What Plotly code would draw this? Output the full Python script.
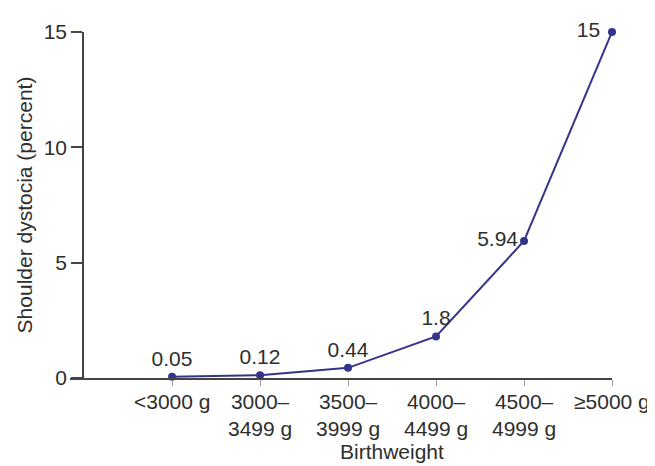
import plotly.graph_objects as go

categories = ["<3000 g", "3000–<br>3499 g", "3500–<br>3999 g", "4000–<br>4499 g", "4500–<br>4999 g", "≥5000 g"]
values = [0.05, 0.12, 0.44, 1.8, 5.94, 15]
value_labels = ["0.05", "0.12", "0.44", "1.8", "5.94", "15 "]
label_positions = ["top center", "top center", "top center", "top center", "middle left", "middle left"]
y_ticks = [0, 5, 10, 15]

x_idx = list(range(len(categories)))
ink = "#36338a"
txt = "#2e2e2e"
font_family = "Liberation Sans, Arial, sans-serif"
fs = 21

fig = go.Figure()
fig.add_trace(go.Scatter(
    x=x_idx, y=values,
    mode="lines+markers+text",
    line=dict(color=ink, width=2),
    marker=dict(color=ink, size=8),
    text=value_labels,
    textposition=label_positions,
    textfont=dict(size=fs, color=txt, family=font_family),
    cliponaxis=False,
    showlegend=False,
))

# category tick labels drawn as annotations anchored on the category axis
for i, lab in enumerate(categories):
    fig.add_annotation(
        x=i, y=0, xref="x", yref="y",
        text=lab, showarrow=False,
        yanchor="top", xanchor="center", align="center",
        yshift=-10,
        font=dict(size=fs, color=txt, family=font_family),
    )

fig.add_annotation(
    x=2.5, y=0, xref="x", yref="paper",
    text="Birthweight", showarrow=False,
    yanchor="top", xanchor="center", yshift=-60,
    font=dict(size=fs, color=txt, family=font_family),
)

# page body has a default 8px margin, so the figure is drawn 8px smaller
fig.update_layout(
    width=647, height=458,
    margin=dict(l=62, r=43, t=17, b=88),
    paper_bgcolor="white", plot_bgcolor="white",
    font=dict(family=font_family, color=txt, size=fs),
    xaxis=dict(
        range=[-1.16, 5.0],
        tickmode="array", tickvals=x_idx, showticklabels=False,
        showline=True, linecolor="#444", linewidth=1.5,
        ticks="outside", ticklen=6, tickcolor="#999", tickwidth=1,
        showgrid=False, zeroline=False,
    ),
    yaxis=dict(
        range=[0, 15],
        tickmode="array", tickvals=y_ticks,
        anchor="free", position=13/542,
        showline=True, linecolor="#444", linewidth=1.5,
        ticks="outside", ticklen=11, tickcolor="#444", tickwidth=1.5,
        showgrid=False, zeroline=False,
        tickfont=dict(size=fs, color=txt),
        title=dict(text="Shoulder dystocia (percent)", font=dict(size=fs, color=txt), standoff=4),
    ),
)

fig.write_html("out.html")
